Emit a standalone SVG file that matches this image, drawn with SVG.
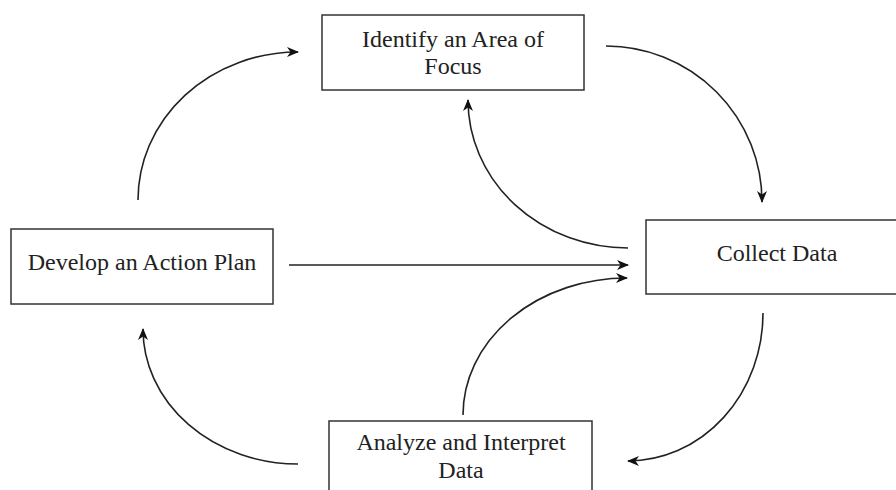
<svg xmlns="http://www.w3.org/2000/svg" width="896" height="490" viewBox="0 0 896 490">
  <style>
    .box { fill: #ffffff; stroke: #333333; stroke-width: 1.5; }
    .label { font-family: "Liberation Serif", "Times New Roman", serif; font-size: 24px; fill: #222222; text-anchor: middle; }
    .link { fill: none; stroke: #222222; stroke-width: 1.6; marker-end: url(#head); }
  </style>
  <defs>
    <marker id="head" viewBox="0 0 12 10" refX="11" refY="5" markerWidth="12" markerHeight="10" markerUnits="userSpaceOnUse" orient="auto">
      <path d="M0,0 L12,5 L0,10 L3.5,5 z" fill="#111111"/>
    </marker>
  </defs>

  <rect width="896" height="490" fill="#ffffff"/>

  <g id="connectors">
    <!-- Develop an Action Plan -> Identify an Area of Focus -->
    <path class="link" d="M138,200 A160,148 0 0 1 298,52"/>
    <!-- Identify an Area of Focus -> Collect Data -->
    <path class="link" d="M606,46 A156,156 0 0 1 762,202"/>
    <!-- Collect Data -> Identify an Area of Focus -->
    <path class="link" d="M628,248 A160,148 0 0 1 468,100"/>
    <!-- Develop an Action Plan -> Collect Data -->
    <path class="link" d="M289,265 L628,265"/>
    <!-- Analyze and Interpret Data -> Collect Data -->
    <path class="link" d="M463,415 A164,137 0 0 1 627,278"/>
    <!-- Collect Data -> Analyze and Interpret Data -->
    <path class="link" d="M763,313 A135,148 0 0 1 628,461"/>
    <!-- Analyze and Interpret Data -> Develop an Action Plan -->
    <path class="link" d="M298,464 A155,135 0 0 1 143,329"/>
  </g>

  <g id="identify">
    <rect class="box" x="322" y="15" width="262" height="75"/>
    <text class="label" x="453" y="47">Identify an Area of</text>
    <text class="label" x="453" y="74">Focus</text>
  </g>

  <g id="collect">
    <rect class="box" x="646" y="220" width="262" height="74"/>
    <text class="label" x="777" y="261">Collect Data</text>
  </g>

  <g id="develop">
    <rect class="box" x="11" y="229" width="262" height="75"/>
    <text class="label" x="142" y="270">Develop an Action Plan</text>
  </g>

  <g id="analyze">
    <rect class="box" x="329" y="421" width="263" height="75"/>
    <text class="label" x="461" y="450">Analyze and Interpret</text>
    <text class="label" x="461" y="478">Data</text>
  </g>
</svg>
